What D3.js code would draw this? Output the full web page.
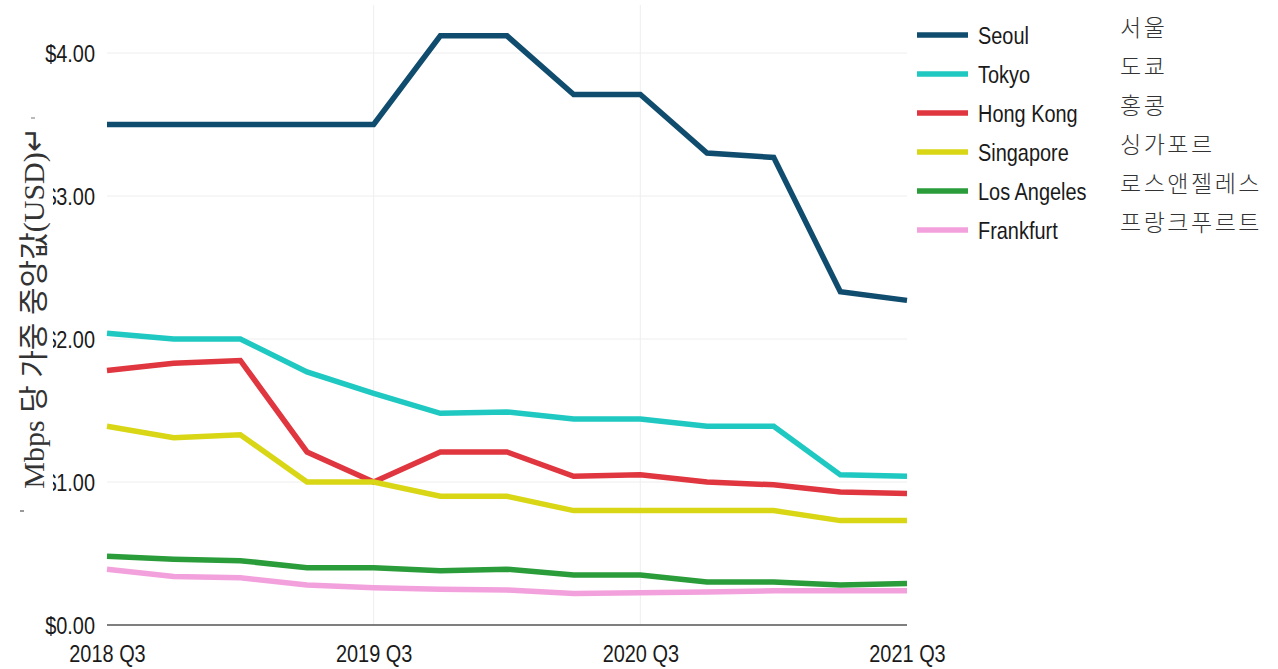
<!DOCTYPE html>
<html>
<head>
<meta charset="utf-8">
<script src="https://cdn.jsdelivr.net/npm/d3@7"></script>
<style>
  html, body { margin: 0; padding: 0; background: #fff; }
  svg { display: block; }
</style>
</head>
<body>
<div id="chart"></div>
<script>
// Quarters on the x axis (only Q3 gets a label)
const quarters = ['2018 Q3', '2018 Q4', '2019 Q1', '2019 Q2', '2019 Q3', '2019 Q4', '2020 Q1',
  '2020 Q2', '2020 Q3', '2020 Q4', '2021 Q1', '2021 Q2', '2021 Q3'];
const tickLabels = ['2018 Q3', '2019 Q3', '2020 Q3', '2021 Q3'];
const yTicks = [0, 1, 2, 3, 4];

const cities = ['Seoul', 'Tokyo', 'Hong Kong', 'Singapore', 'Los Angeles', 'Frankfurt'];
const citiesKo = ['서울', '도쿄', '홍콩', '싱가포르', '로스앤젤레스', '프랑크푸르트'];
const colors = ['#0f4c6e', '#1fc9c1', '#e0363f', '#d9d616', '#2a9c3a', '#f3a1dc'];

// median weighted price per Mbps (USD)
const seoul = [3.50, 3.50, 3.50, 3.50, 3.50, 4.12, 4.12, 3.71, 3.71, 3.30, 3.27, 2.33, 2.27];
const tokyo = [2.04, 2.00, 2.00, 1.77, 1.62, 1.48, 1.49, 1.44, 1.44, 1.39, 1.39, 1.05, 1.04];
const hongKong = [1.78, 1.83, 1.85, 1.21, 1.00, 1.21, 1.21, 1.04, 1.05, 1.00, 0.98, 0.93, 0.92];
const singapore = [1.39, 1.31, 1.33, 1.00, 1.00, 0.90, 0.90, 0.80, 0.80, 0.80, 0.80, 0.73, 0.73];
const losAngeles = [0.48, 0.46, 0.45, 0.40, 0.40, 0.38, 0.39, 0.35, 0.35, 0.30, 0.30, 0.28, 0.29];
const frankfurt = [0.39, 0.34, 0.33, 0.28, 0.26, 0.25, 0.245, 0.22, 0.225, 0.23, 0.24, 0.24, 0.24];

const seriesValues = [seoul, tokyo, hongKong, singapore, losAngeles, frankfurt];

// Set up dimensions
const width = 1278;
const height = 669;
const plot = { left: 107, right: 907, top: 53, bottom: 625 };

const svg = d3.select('#chart')
  .append('svg')
  .attr('width', width)
  .attr('height', height);

const x = d3.scalePoint()
  .domain(quarters)
  .range([plot.left, plot.right]);

const y = d3.scaleLinear()
  .domain([0, 4])
  .range([plot.bottom, plot.top]);

const sans = '"Liberation Sans", Arial, Helvetica, sans-serif';

// Gridlines
svg.append('g')
  .selectAll('line')
  .data(yTicks.filter(d => d > 0))
  .join('line')
  .attr('x1', plot.left)
  .attr('x2', plot.right)
  .attr('y1', d => y(d))
  .attr('y2', d => y(d))
  .attr('stroke', '#eeeeee')
  .attr('stroke-width', 1);

svg.append('g')
  .selectAll('line')
  .data(tickLabels.slice(1, 3))
  .join('line')
  .attr('x1', d => x(d))
  .attr('x2', d => x(d))
  .attr('y1', 5)
  .attr('y2', plot.bottom)
  .attr('stroke', '#eeeeee')
  .attr('stroke-width', 1);

// Zero baseline
svg.append('line')
  .attr('x1', plot.left)
  .attr('x2', plot.right)
  .attr('y1', y(0))
  .attr('y2', y(0))
  .attr('stroke', '#555')
  .attr('stroke-width', 1.5);

// Y axis labels (narrow, tall glyphs)
const yAxis = svg.append('g')
  .attr('transform', `translate(${plot.left - 12},0)`)
  .call(d3.axisLeft(y).tickValues(yTicks).tickSize(0).tickFormat(d => '$' + d3.format('.2f')(d)));
yAxis.select('.domain').remove();
yAxis.selectAll('text')
  .attr('font-family', sans)
  .attr('font-size', 24)
  .attr('fill', '#1a1a1a')
  .attr('dy', '0.34em')
  .attr('x', 0)
  .attr('transform', 'scale(0.83,1)');

// X axis labels
const xAxis = svg.append('g')
  .attr('transform', `translate(0,${plot.bottom + 20})`)
  .call(d3.axisBottom(x).tickValues(tickLabels).tickSize(0));
xAxis.select('.domain').remove();
xAxis.selectAll('text')
  .attr('font-family', sans)
  .attr('font-size', 24)
  .attr('fill', '#1a1a1a')
  .attr('y', 0)
  .attr('dy', '0.71em')
  .attr('transform', 'scale(0.83,1)');

// Lines
const line = d3.line()
  .x((d, i) => x(quarters[i]))
  .y(d => y(d));

svg.append('g')
  .selectAll('path')
  .data(seriesValues)
  .join('path')
  .attr('d', d => line(d))
  .attr('fill', 'none')
  .attr('stroke', (d, i) => colors[i])
  .attr('stroke-width', 5.5)
  .attr('stroke-linejoin', 'miter');

// Legend
const legend = svg.append('g')
  .selectAll('g')
  .data(cities)
  .join('g')
  .attr('transform', (d, i) => `translate(917,${35 + i * 39})`);

legend.append('line')
  .attr('x1', 0)
  .attr('x2', 51)
  .attr('stroke', (d, i) => colors[i])
  .attr('stroke-width', 5.5);

legend.append('text')
  .attr('x', 0)
  .attr('dy', '0.36em')
  .attr('transform', 'translate(61,0) scale(0.83,1)')
  .attr('font-family', sans)
  .attr('font-size', 24)
  .attr('fill', '#1a1a1a')
  .text(d => d);

legend.append('text')
  .attr('x', 203)
  .attr('y', -7)
  .attr('dy', '0.36em')
  .attr('font-family', '"Noto Sans CJK KR", sans-serif')
  .attr('font-size', 23)
  .attr('font-weight', 300)
  .attr('letter-spacing', 2.5)
  .attr('fill', '#333')
  .text((d, i) => citiesKo[i]);

// Korean y axis title pasted over the tick labels
svg.append('rect')
  .attr('x', 0)
  .attr('y', 116)
  .attr('width', 53)
  .attr('height', 400)
  .attr('fill', '#fff');

svg.append('line')
  .attr('x1', 31).attr('x2', 35)
  .attr('y1', 118).attr('y2', 118)
  .attr('stroke', '#777').attr('stroke-width', 1);
svg.append('line')
  .attr('x1', 20).attr('x2', 24)
  .attr('y1', 511).attr('y2', 511)
  .attr('stroke', '#777').attr('stroke-width', 1.5);

svg.append('text')
  .attr('transform', 'translate(44,308) rotate(-90)')
  .attr('text-anchor', 'middle')
  .attr('font-family', '"Liberation Serif", "Noto Sans CJK KR", serif')
  .attr('font-size', 30)
  .attr('fill', '#333')
  .text('Mbps 당 가중 중앙값(USD)↵');
</script>
</body>
</html>
